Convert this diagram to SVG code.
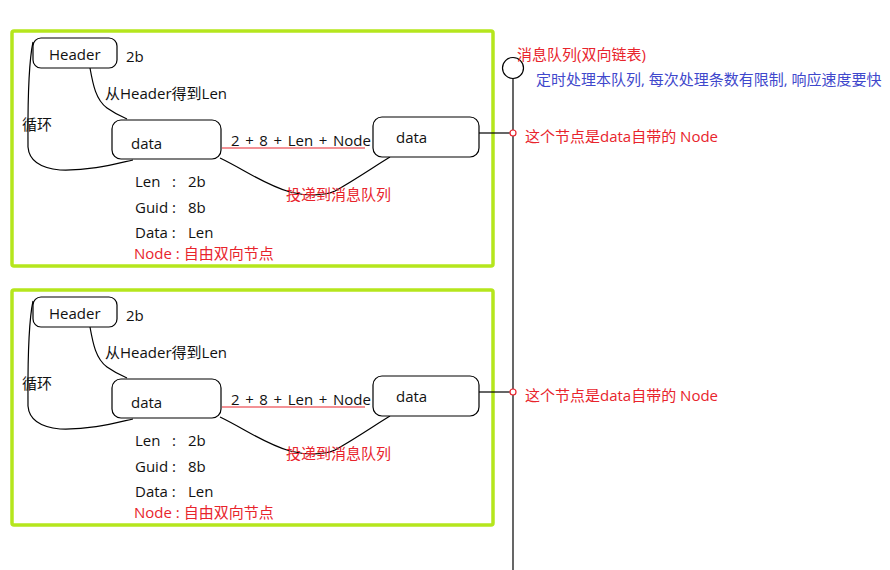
<svg xmlns="http://www.w3.org/2000/svg" width="890" height="570" viewBox="0 0 890 570">
<style>
text{font-family:"Open Sans","Noto Sans CJK SC",sans-serif;font-size:15px;fill:#111}
.r{fill:#e8242c}
.b{fill:#3f48cc}
.w{word-spacing:1.7px}
.box{fill:#fff;stroke:#000;stroke-width:1.2}
.ln{fill:none;stroke:#000;stroke-width:1.2}
.frame{fill:none;stroke:#b5e61d;stroke-width:3.5}
</style>
<rect width="890" height="570" fill="#fff"/>
<g id="queue">
<circle cx="513" cy="68" r="10.5" class="box"/>
<line x1="513" y1="78.5" x2="513" y2="570" class="ln"/>
<text x="517" y="60" class="r">消息队列(双向链表)</text>
<text x="536" y="85" class="b" font-size="14.5">定时处理本队列, 每次处理条数有限制, 响应速度要快</text>
</g>
<g id="panel1">
<rect id="frame1" x="12" y="31" width="481" height="235" rx="2" class="frame"/>
<g id="connectors1">
<path d="M90,68 C93,85 96,100 107,108 C114,113 120,116 127,119" class="ln"/>
<path d="M33,42 C27,70 28,120 28,147 C29,160 40,168 60,170 C90,171 115,164 133,160" class="ln"/>
<path d="M220,158 C245,170 265,185 290,192 C305,196 325,196 335,191 C355,180 375,166 390,157" class="ln"/>
<line x1="222" y1="148" x2="365" y2="148" stroke="#e8242c" stroke-width="1.2"/>
<line x1="479" y1="133" x2="510" y2="133" class="ln"/>
<circle cx="513" cy="133" r="3" fill="#fff" stroke="#e8242c" stroke-width="1.2"/>
</g>
<g id="header1"><rect x="33" y="38" width="84" height="30" rx="8" class="box"/><text x="49" y="60">Header</text></g>
<g id="data1a"><rect x="112" y="120" width="109" height="39" rx="9" class="box"/><text x="131" y="149">data</text></g>
<g id="data1b"><rect x="373" y="117" width="106" height="40" rx="9" class="box"/><text x="396" y="143">data</text></g>
<text x="126" y="62">2b</text>
<text x="105" y="99">从Header得到Len</text>
<text x="22" y="130">循环</text>
<text x="231" y="146" class="w">2 + 8 + Len + Node</text>
<text x="286" y="200" class="r" font-size="14">投递到消息队列</text>
<text x="135" y="187">Len</text><text x="172" y="187">:</text><text x="188" y="187">2b</text>
<text x="135" y="213">Guid :</text><text x="188" y="213">8b</text>
<text x="135" y="238">Data :</text><text x="188" y="238">Len</text>
<text x="134" y="259" class="r">Node : 自由双向节点</text>
<text x="525" y="142" class="r">这个节点是data自带的 Node</text>
</g>
<g id="panel2" transform="translate(0,259)">
<rect id="frame2" x="12" y="31" width="481" height="235" rx="2" class="frame"/>
<g id="connectors2">
<path d="M90,68 C93,85 96,100 107,108 C114,113 120,116 127,119" class="ln"/>
<path d="M33,42 C27,70 28,120 28,147 C29,160 40,168 60,170 C90,171 115,164 133,160" class="ln"/>
<path d="M220,158 C245,170 265,185 290,192 C305,196 325,196 335,191 C355,180 375,166 390,157" class="ln"/>
<line x1="222" y1="148" x2="365" y2="148" stroke="#e8242c" stroke-width="1.2"/>
<line x1="479" y1="133" x2="510" y2="133" class="ln"/>
<circle cx="513" cy="133" r="3" fill="#fff" stroke="#e8242c" stroke-width="1.2"/>
</g>
<g id="header2"><rect x="33" y="38" width="84" height="30" rx="8" class="box"/><text x="49" y="60">Header</text></g>
<g id="data2a"><rect x="112" y="120" width="109" height="39" rx="9" class="box"/><text x="131" y="149">data</text></g>
<g id="data2b"><rect x="373" y="117" width="106" height="40" rx="9" class="box"/><text x="396" y="143">data</text></g>
<text x="126" y="62">2b</text>
<text x="105" y="99">从Header得到Len</text>
<text x="22" y="130">循环</text>
<text x="231" y="146" class="w">2 + 8 + Len + Node</text>
<text x="286" y="200" class="r" font-size="14">投递到消息队列</text>
<text x="135" y="187">Len</text><text x="172" y="187">:</text><text x="188" y="187">2b</text>
<text x="135" y="213">Guid :</text><text x="188" y="213">8b</text>
<text x="135" y="238">Data :</text><text x="188" y="238">Len</text>
<text x="134" y="259" class="r">Node : 自由双向节点</text>
<text x="525" y="142" class="r">这个节点是data自带的 Node</text>
</g>
</svg>
